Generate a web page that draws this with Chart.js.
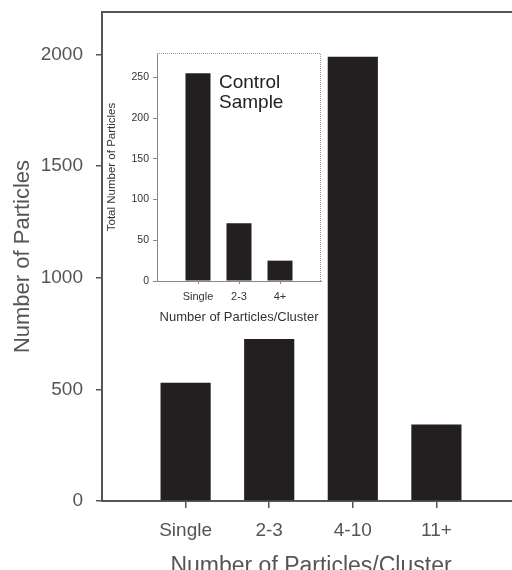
<!DOCTYPE html>
<html>
<head>
<meta charset="utf-8">
<script src="https://cdn.jsdelivr.net/npm/chart.js@4"></script>
<style>
  html, body { margin: 0; padding: 0; background: #fff; overflow: hidden; }
  #wrap { position: relative; width: 512px; height: 570px; overflow: hidden; }
  #main { position: absolute; left: 0; top: 0; }
  #inset { position: absolute; left: 100px; top: 40px; }
</style>
</head>
<body>
<div id="wrap">
  <canvas id="main" width="520" height="580"></canvas>
  <canvas id="inset" width="228" height="285"></canvas>
</div>
<script>
// main chart data
var categories = ["Single", "2-3", "4-10", "11+"];
var particleCounts = [530, 725, 1990, 343];
var yTicks = [0, 500, 1000, 1500, 2000];

// inset (control sample)
var insetCategories = ["Single", "2-3", "4+"];
var insetCounts = [255, 71, 25];
var insetTicks = [0, 50, 100, 150, 200, 250];

Chart.defaults.font.family = "'Liberation Sans', Arial, sans-serif";
Chart.defaults.animation = false;

// blank slots at both ends so categories sit at 1..n
function padLabels(arr) { return [""].concat(arr, [""]); }
function padData(arr) { return [null].concat(arr, [null]); }
function plain(v) { return String(v); }

var mainLabels = padLabels(categories);
var insetLabels = padLabels(insetCategories);

var topLine = {
  id: "topLine",
  afterDraw: function(chart) {
    var a = chart.chartArea, ctx = chart.ctx;
    ctx.save();
    ctx.strokeStyle = "#555";
    ctx.lineWidth = 2;
    ctx.beginPath();
    ctx.moveTo(a.left, a.top);
    ctx.lineTo(a.right, a.top);
    ctx.stroke();
    ctx.restore();
  }
};

new Chart("main", {
  type: "bar",
  data: {
    labels: mainLabels,
    datasets: [{
      data: padData(particleCounts),
      backgroundColor: "#231f20",
      borderWidth: 0,
      categoryPercentage: 1,
      barPercentage: 0.6
    }]
  },
  options: {
    responsive: false,
    layout: { padding: { top: 12, left: 0, right: 0, bottom: 0 } },
    plugins: { legend: { display: false }, tooltip: { enabled: false } },
    scales: {
      x: {
        type: "category",
        offset: false,
        afterFit: function(s) { s.height = 79; s.paddingLeft = 0; s.paddingRight = 0; },
        border: { color: "#555", width: 2 },
        grid: {
          offset: false,
          drawOnChartArea: false,
          tickLength: 7,
          lineWidth: 1.5,
          tickColor: function(ctx) { return mainLabels[ctx.index] ? "#555" : "rgba(0,0,0,0)"; }
        },
        ticks: { autoSkip: false, maxRotation: 0, padding: 11, color: "#555", font: { size: 19 } },
        title: {
          display: true,
          text: "Number of Particles/Cluster",
          color: "#555",
          font: { size: 23 },
          padding: { top: 9, bottom: 0 }
        }
      },
      y: {
        min: 0,
        max: 2190,
        afterBuildTicks: function(s) { s.ticks = yTicks.map(function(v) { return { value: v }; }); },
        afterFit: function(s) { s.width = 102; s.paddingTop = 0; s.paddingBottom = 0; },
        border: { color: "#555", width: 2 },
        grid: { drawOnChartArea: false, tickLength: 6, lineWidth: 1.5, color: "#555" },
        ticks: { padding: 13, color: "#555", font: { size: 19 }, callback: plain },
        title: {
          display: true,
          text: "Number of Particles",
          color: "#555",
          font: { size: 22 },
          padding: { top: 10, bottom: 0 }
        }
      }
    }
  },
  plugins: [topLine]
});

var insetFrame = {
  id: "insetFrame",
  afterDraw: function(chart) {
    var a = chart.chartArea, ctx = chart.ctx;
    ctx.save();
    ctx.strokeStyle = "#999";
    ctx.lineWidth = 1;
    ctx.setLineDash([1, 1]);
    ctx.beginPath();
    ctx.moveTo(a.left, a.top + 0.5);
    ctx.lineTo(a.right - 0.5, a.top + 0.5);
    ctx.lineTo(a.right - 0.5, a.bottom);
    ctx.stroke();
    ctx.setLineDash([]);
    // label inside the inset
    var x = chart.scales.x.getPixelForValue(1) + 21;
    ctx.fillStyle = "#222";
    ctx.font = "19px 'Liberation Sans', Arial, sans-serif";
    ctx.textBaseline = "middle";
    ctx.fillText("Control", x, a.top + 30);
    ctx.fillText("Sample", x, a.top + 50);
    ctx.restore();
  }
};

new Chart("inset", {
  type: "bar",
  data: {
    labels: insetLabels,
    datasets: [{
      data: padData(insetCounts),
      backgroundColor: "#231f20",
      borderWidth: 0,
      categoryPercentage: 1,
      barPercentage: 0.61
    }]
  },
  options: {
    responsive: false,
    layout: { padding: { top: 13, left: 0, right: 7, bottom: 0 } },
    plugins: { legend: { display: false }, tooltip: { enabled: false } },
    scales: {
      x: {
        type: "category",
        offset: false,
        afterFit: function(s) { s.height = 44; s.paddingLeft = 0; s.paddingRight = 0; },
        border: { color: "#888", width: 1 },
        grid: {
          offset: false,
          drawOnChartArea: false,
          tickLength: 3,
          tickColor: function(ctx) { return insetLabels[ctx.index] ? "#888" : "rgba(0,0,0,0)"; }
        },
        ticks: { autoSkip: false, maxRotation: 0, padding: 6, color: "#333", font: { size: 11 } },
        title: {
          display: true,
          text: "Number of Particles/Cluster",
          color: "#333",
          font: { size: 13 },
          padding: { top: 5, bottom: 0 }
        }
      },
      y: {
        min: 0,
        max: 280,
        afterBuildTicks: function(s) { s.ticks = insetTicks.map(function(v) { return { value: v }; }); },
        afterFit: function(s) { s.width = 57; s.paddingTop = 0; s.paddingBottom = 0; },
        border: { color: "#888", width: 1 },
        grid: { drawOnChartArea: false, tickLength: 4, color: "#888" },
        ticks: { padding: 4, color: "#333", font: { size: 10.5 }, callback: plain },
        title: {
          display: true,
          text: "Total Number of Particles",
          color: "#333",
          font: { size: 11.5 },
          padding: { top: 5, bottom: 0 }
        }
      }
    }
  },
  plugins: [insetFrame]
});
</script>
</body>
</html>
